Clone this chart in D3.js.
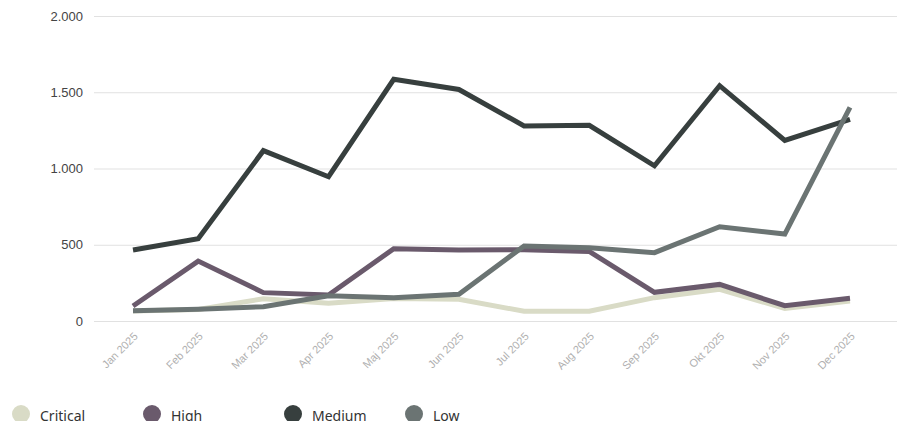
<!DOCTYPE html>
<html lang="en">
<head>
  <meta charset="UTF-8">
  <title>Findings per month</title>
  <script src="https://cdn.jsdelivr.net/npm/d3@7/dist/d3.min.js"></script>
<style>
  html, body { margin: 0; padding: 0; background: #fff; }
  svg { display: block; font-family: "Noto Sans", "DejaVu Sans", sans-serif; }
</style>
</head>

<body>
  <script>
    var months = ['Jan 2025', 'Feb 2025', 'Mar 2025', 'Apr 2025', 'Maj 2025', 'Jun 2025',
                  'Jul 2025', 'Aug 2025', 'Sep 2025', 'Okt 2025', 'Nov 2025', 'Dec 2025'];

    var critical = [65, 75, 146, 116, 148, 142, 64, 64, 153, 208, 82, 131];
    var high     = [98, 393, 186, 170, 474, 466, 468, 456, 188, 240, 100, 149];
    var medium   = [466, 540, 1117, 946, 1585, 1518, 1279, 1283, 1018, 1543, 1184, 1322];
    var low      = [68, 77, 94, 166, 153, 175, 492, 481, 448, 618, 570, 1401];

    var yTicks = [0, 500, 1000, 1500, 2000];

    var series = [
      { name: 'Critical', values: critical, color: '#d9dbc6' },
      { name: 'High',     values: high,     color: '#6a5a6c' },
      { name: 'Medium',   values: medium,   color: '#373f3e' },
      { name: 'Low',      values: low,      color: '#6b7473' }
    ];

    var w = 899;
    var h = 421;
    // plot area (note: "top" is taken by window.top, so prefix these)
    var plotLeft = 94, plotRight = 897, plotTop = 16, plotBottom = 321;

    var svg = d3.select('body')
                .append('svg')
                .attr('width', w)
                .attr('height', h);

    var x = d3.scalePoint()
      .domain(months)
      .range([133, 850]);

    var y = d3.scaleLinear()
      .domain([0, 2000])
      .range([plotBottom, plotTop]);

    var fmt = function(d) { return d3.format(',')(d).replace(/,/g, '.'); };

    // grid + y labels
    var yAxis = svg.append('g')
      .attr('transform', `translate(${plotLeft},0)`)
      .call(d3.axisLeft(y).tickValues(yTicks).tickSize(-(plotRight - plotLeft)).tickPadding(11).tickFormat(fmt));
    yAxis.select('.domain').remove();
    yAxis.selectAll('.tick line').attr('stroke', '#e1e1e1').attr('stroke-width', 1);
    yAxis.selectAll('.tick text')
      .attr('fill', '#444')
      .attr('font-size', '13px');

    // x labels, rotated
    var xAxis = svg.append('g')
      .attr('transform', `translate(0,${plotBottom})`)
      .call(d3.axisBottom(x).tickSize(0).tickPadding(0));
    xAxis.select('.domain').remove();
    xAxis.selectAll('.tick text')
      .attr('fill', '#b0b0b0')
      .attr('font-size', '11px')
      .attr('text-anchor', 'end')
      .attr('dy', 0)
      .attr('transform', 'translate(5,16) rotate(-45)');

    var line = d3.line()
      .x((d, i) => x(months[i]))
      .y(d => y(d));

    svg.selectAll('path.series')
      .data(series)
      .enter()
      .append('path')
      .attr('class', 'series')
      .attr('d', d => line(d.values))
      .attr('fill', 'none')
      .attr('stroke', d => d.color)
      .attr('stroke-width', 5)
      .attr('stroke-linejoin', 'miter');

    // legend
    var legendX = [21, 152, 293, 414];
    var legend = svg.selectAll('g.legend')
      .data(series)
      .enter()
      .append('g')
      .attr('class', 'legend')
      .attr('transform', (d, i) => `translate(${legendX[i]},414)`);

    legend.append('circle')
      .attr('r', 9)
      .attr('fill', d => d.color);

    legend.append('text')
      .text(d => d.name)
      .attr('x', 19)
      .attr('y', 7)
      .attr('font-size', '14px')
      .attr('fill', '#333');
  </script>
</body>
</html>
